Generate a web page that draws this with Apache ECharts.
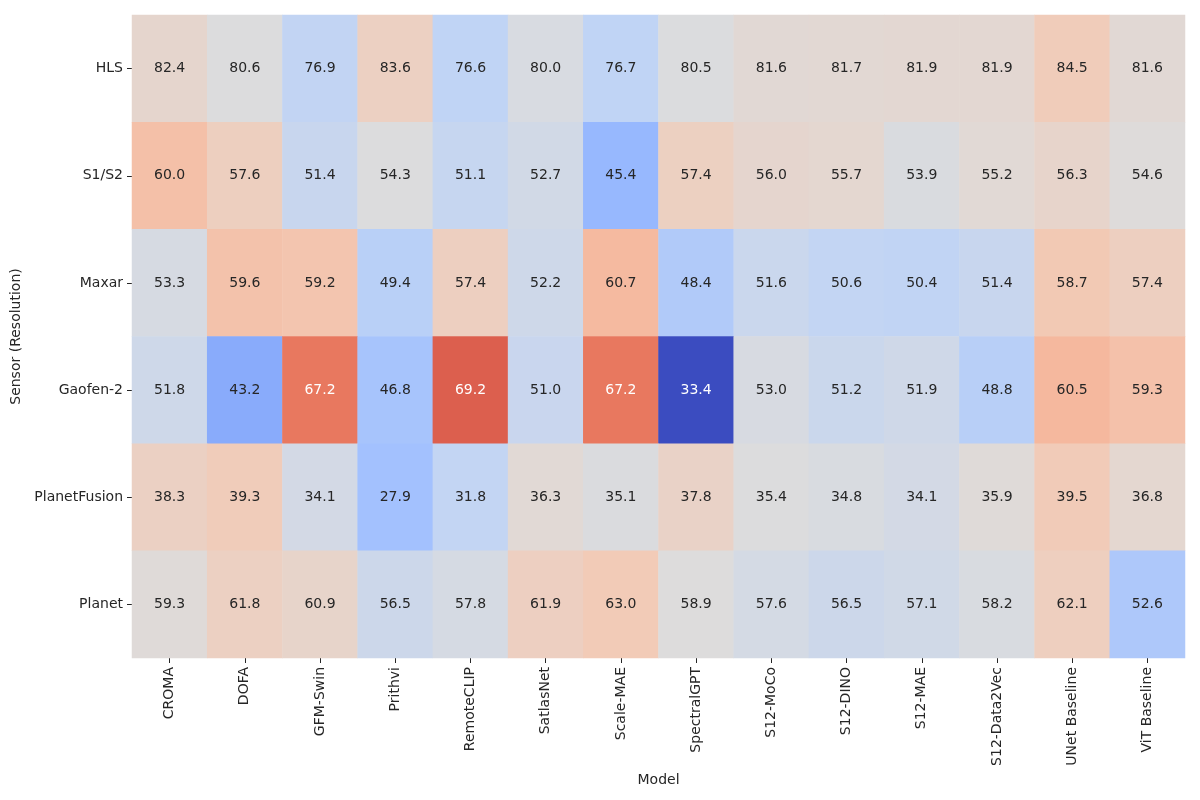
<!DOCTYPE html>
<html>
<head>
<meta charset="utf-8">
<script src="https://cdn.jsdelivr.net/npm/echarts@6/dist/echarts.min.js"></script>
<style>html,body{margin:0;padding:0;background:#fff}#c{width:1200px;height:800px}</style>
</head>
<body>
<div id="c"></div>
<script>
var models = ["CROMA","DOFA","GFM-Swin","Prithvi","RemoteCLIP","SatlasNet","Scale-MAE","SpectralGPT","S12-MoCo","S12-DINO","S12-MAE","S12-Data2Vec","UNet Baseline","ViT Baseline"];
var sensors = ["HLS","S1/S2","Maxar","Gaofen-2","PlanetFusion","Planet"];
var rowHLS = [82.4,80.6,76.9,83.6,76.6,80.0,76.7,80.5,81.6,81.7,81.9,81.9,84.5,81.6];
var rowS1S2 = [60.0,57.6,51.4,54.3,51.1,52.7,45.4,57.4,56.0,55.7,53.9,55.2,56.3,54.6];
var rowMaxar = [53.3,59.6,59.2,49.4,57.4,52.2,60.7,48.4,51.6,50.6,50.4,51.4,58.7,57.4];
var rowGaofen = [51.8,43.2,67.2,46.8,69.2,51.0,67.2,33.4,53.0,51.2,51.9,48.8,60.5,59.3];
var rowPlanetFusion = [38.3,39.3,34.1,27.9,31.8,36.3,35.1,37.8,35.4,34.8,34.1,35.9,39.5,36.8];
var rowPlanet = [59.3,61.8,60.9,56.5,57.8,61.9,63.0,58.9,57.6,56.5,57.1,58.2,62.1,52.6];
var rows = [rowHLS,rowS1S2,rowMaxar,rowGaofen,rowPlanetFusion,rowPlanet];

var coolwarm = ['#3b4cc0','#5977e3','#7b9ff9','#9ebeff','#c0d4f5','#dddcdc','#f2cbb7','#f7ac8e','#ee8468','#d65244','#b40426'];

// color by deviation from the row mean, symmetric range
var devs = rows.map(function(r){
  var m = r.reduce(function(a,b){return a+b;},0)/r.length;
  return r.map(function(v){return v-m;});
});
var ext = 0;
devs.forEach(function(r){r.forEach(function(d){ext=Math.max(ext,Math.abs(d));});});

function hex2rgb(h){return [parseInt(h.substr(1,2),16),parseInt(h.substr(3,2),16),parseInt(h.substr(5,2),16)];}
function cmap(t){
  t=Math.max(0,Math.min(1,t));
  var p=t*(coolwarm.length-1), i=Math.min(Math.floor(p),coolwarm.length-2), f=p-i;
  var a=hex2rgb(coolwarm[i]), b=hex2rgb(coolwarm[i+1]);
  return [0,1,2].map(function(k){return a[k]+(b[k]-a[k])*f;});
}
function lum(rgb){
  var c=rgb.map(function(v){v/=255;return v<=0.03928?v/12.92:Math.pow((v+0.055)/1.055,2.4);});
  return 0.2126*c[0]+0.7152*c[1]+0.0722*c[2];
}

var data=[];
rows.forEach(function(r,yi){
  r.forEach(function(v,xi){
    var d=devs[yi][xi];
    var col=cmap((d+ext)/(2*ext));
    data.push({value:[xi,yi,d,v],label:{color: lum(col)>0.408 ? '#262626' : '#ffffff'}});
  });
});

var chart=echarts.init(document.getElementById('c'),null,{renderer:'canvas'});
var font='DejaVu Sans';
chart.setOption({
  animation:false,
  textStyle:{fontFamily:font},
  grid:{left:132,right:15,top:15,bottom:142},
  xAxis:{type:'category',data:models,name:'Model',nameLocation:'middle',nameGap:110,
    nameTextStyle:{fontSize:14,color:'#262626',fontFamily:font},
    axisLine:{show:false},splitArea:{show:false},
    axisTick:{show:true,alignWithLabel:true,length:5,lineStyle:{color:'#262626'}},
    axisLabel:{rotate:90,fontSize:14,color:'#262626',margin:9,fontFamily:font,interval:0}},
  yAxis:{type:'category',data:sensors,inverse:true,name:'Sensor (Resolution)',nameLocation:'middle',nameGap:101,
    nameRotate:90,nameTextStyle:{fontSize:14,color:'#262626',fontFamily:font},
    axisLine:{show:false},
    axisTick:{show:true,alignWithLabel:true,length:5,lineStyle:{color:'#262626'}},
    axisLabel:{fontSize:14,color:'#262626',margin:9,fontFamily:font,interval:0}},
  visualMap:{show:false,dimension:2,min:-ext,max:ext,inRange:{color:coolwarm},calculable:false},
  series:[{type:'heatmap',data:data,
    label:{show:true,fontSize:14,fontFamily:font,formatter:function(p){return p.value[3].toFixed(1);}},
    itemStyle:{borderWidth:0},emphasis:{disabled:true}}]
});
</script>
</body>
</html>
